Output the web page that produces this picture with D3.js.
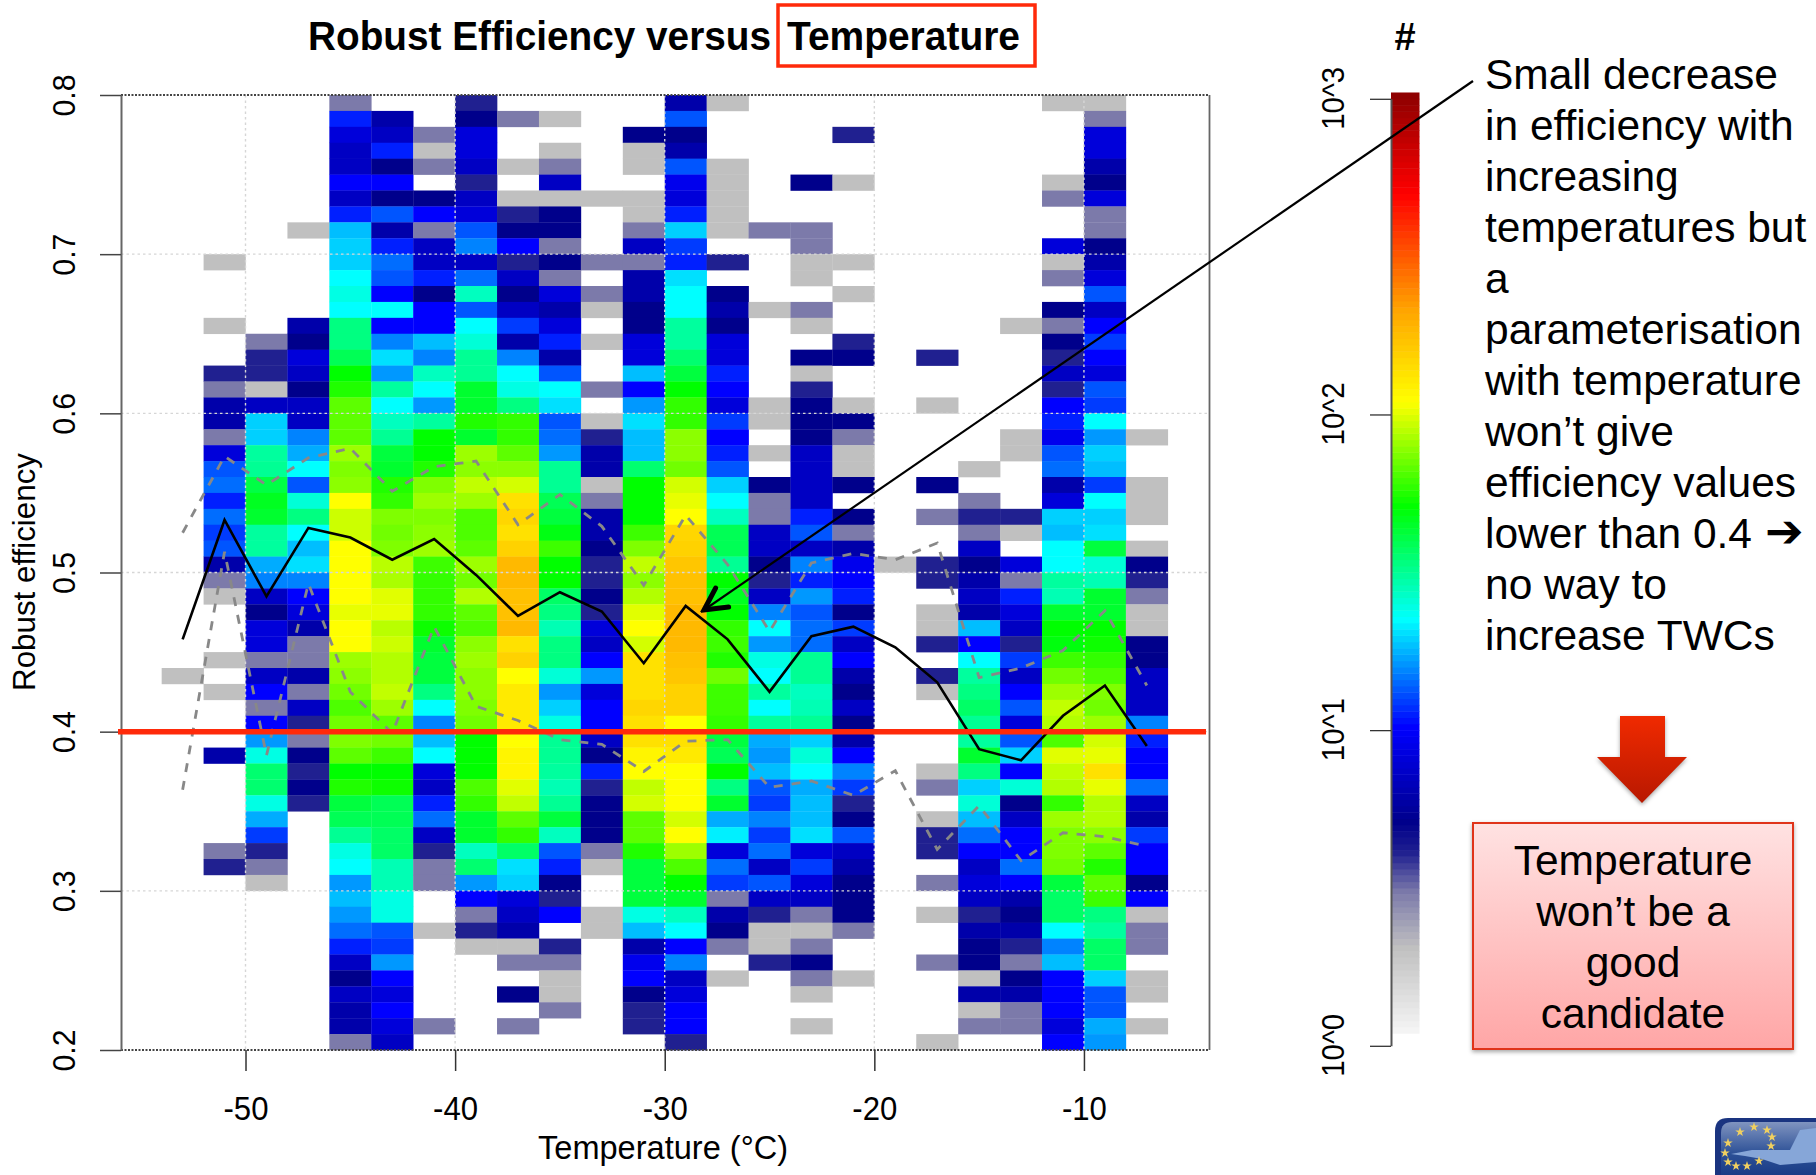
<!DOCTYPE html>
<html>
<head>
<meta charset="utf-8">
<title>Robust Efficiency versus Temperature</title>
<script src="https://cdn.jsdelivr.net/npm/d3@7/dist/d3.min.js"></script>
<style>
html, body { margin: 0; padding: 0; background: #fff; overflow: hidden; }
text { font-family: "Liberation Sans", Arial, sans-serif; fill: #000; }
</style>
</head>
<body>
<svg id="chart" width="1816" height="1175"></svg>
<script>
// lower edge of each 2 degree temperature bin
const tempBins = [-54,-52,-50,-48,-46,-44,-42,-40,-38,-36,-34,-32,-30,-28,-26,-24,-22,-20,-18,-16,-14,-12,-10,-8];

// counts per cell, one array per temperature bin, first entry is efficiency 0.79-0.80, last 0.20-0.21
const t54 = [0,0,0,0,0,0,0,0,0,0, 0,0,0,0,0,0,0,0,0,0, 0,0,0,0,0,0,0,0,0,0, 0,0,0,0,0,0,2,0,0,0, 0,0,0,0,0,0,0,0,0,0, 0,0,0,0,0,0,0,0,0,0];
const t52 = [0,0,0,0,0,0,0,0,0,0, 2,0,0,0,2,0,0,4,3,6, 6,3,8,13,14,11,14,12,13,6, 3,2,0,0,0,2,0,2,0,0, 0,6,0,0,0,0,0,3,4,0, 0,0,0,0,0,0,0,0,0,0];
const t50 = [0,0,0,0,0,0,0,0,0,0, 0,0,0,0,0,3,4,4,2,7, 19,19,30,31,40,45,43,30,30,17, 15,7,5,8,8,3,7,10,3,10, 16,24,35,35,24,17,12,4,3,2, 0,0,0,0,0,0,0,0,0,0];
const t48 = [0,0,0,0,0,0,0,0,2,0, 0,0,0,0,6,5,8,7,5,7, 7,15,17,22,13,25,33,22,18,20, 15,10,8,6,3,3,6,3,7,4, 3,5,4,5,4,0,0,0,0,0, 0,0,0,0,0,0,0,0,0,0];
const t46 = [3,11,8,7,7,10,7,11,18,19, 19,22,24,22,33,33,38,50,55,66, 66,66,80,73,76,107,92,92,107,107, 107,107,100,107,107,80,76,70,63,70, 73,66,50,55,41,38,31,24,22,16, 18,16,14,11,7,5,7,6,6,3];
const t44 = [0,6,7,11,5,10,5,13,6,11, 14,13,10,22,10,15,20,16,30,22, 27,31,41,43,55,58,73,70,73,87, 83,98,100,87,92,85,85,89,80,66, 70,60,50,52,38,38,36,36,28,28, 24,24,13,12,16,10,8,10,8,7];
const t42 = [0,0,3,2,3,0,5,10,3,7, 7,11,5,10,10,18,15,27,22,16, 30,50,50,55,73,80,73,76,80,60, 58,58,58,52,43,41,41,33,22,15, 18,22,8,7,11,14,7,4,3,3, 0,0,2,0,0,0,0,0,3,0];
const t40 = [4,5,8,8,7,4,7,8,13,15, 7,14,27,13,22,25,31,31,43,43, 55,43,80,76,89,80,63,63,66,80, 70,85,66,63,76,80,76,76,73,70, 50,50,50,63,58,43,43,27,35,16, 10,3,4,2,0,0,0,0,0,0];
const t38 = [0,3,0,0,2,0,2,4,5,10, 4,7,5,7,12,6,15,22,24,33, 58,58,66,76,94,134,145,134,150,180, 180,170,170,180,134,150,107,125,125,125, 107,115,115,98,89,66,58,36,20,19, 8,7,6,2,3,0,5,0,3,0];
const t36 = [0,2,0,2,3,7,2,5,5,3, 5,3,8,6,8,11,6,13,22,20, 13,14,16,31,31,38,41,47,60,50, 50,36,33,28,33,33,25,16,19,24, 31,31,30,28,31,41,27,13,11,5, 4,10,0,4,3,2,2,3,0,0];
const t34 = [0,0,0,0,0,0,2,0,0,0, 3,0,3,2,0,2,0,0,3,0, 2,4,6,6,2,3,6,6,5,4, 4,5,4,8,7,10,16,8,10,10, 7,5,11,4,5,5,5,3,2,0, 0,2,2,0,0,0,0,0,0,0];
const t32 = [0,0,5,2,2,0,2,2,3,7, 3,6,6,5,5,8,8,18,10,16, 20,18,18,35,50,50,50,60,73,89, 76,85,98,107,94,134,134,134,145,134, 134,115,107,89,94,66,66,55,41,41, 41,24,18,6,9,10,5,4,4,0];
const t30 = [6,13,5,6,13,9,8,11,19,12, 11,20,22,22,30,30,35,41,50,58, 58,76,76,70,94,100,107,145,150,163, 170,170,180,180,180,170,163,150,150,107, 134,125,107,107,107,94,107,80,63,50, 43,27,22,10,15,7,8,10,10,4];
const t28 = [2,0,0,0,2,2,2,2,2,0, 4,0,5,6,5,8,8,11,10,8, 12,10,11,13,19,22,27,38,38,31, 50,45,50,58,60,55,70,60,60,58, 41,38,50,33,43,17,21,8,14,12, 3,6,5,3,0,2,0,0,0,0];
const t26 = [0,0,0,0,0,0,0,0,3,0, 0,0,0,2,0,0,0,0,0,2, 2,0,2,0,5,3,3,7,7,5, 4,7,15,22,16,24,22,30,22,30, 17,16,18,13,12,15,12,14,7,13, 7,4,2,2,4,0,0,0,0,0];
const t24 = [0,0,0,0,0,5,0,0,3,3, 2,2,0,3,2,0,5,2,4,5, 5,5,7,7,7,7,11,13,7,15, 11,16,13,14,14,31,31,27,28,31, 19,25,22,17,18,18,20,8,12,8, 7,3,2,3,5,3,2,0,2,0];
const t22 = [0,0,4,0,0,2,0,0,0,0, 2,0,2,0,0,4,5,0,0,2, 5,3,2,2,5,0,5,3,6,9, 10,11,5,12,7,10,6,5,7,5, 6,10,15,12,4,5,13,7,6,5, 5,5,3,0,0,2,0,0,0,0];
const t20 = [0,0,0,0,0,0,0,0,0,0, 0,0,0,0,0,0,0,0,0,0, 0,0,0,0,0,0,0,0,0,2, 0,0,0,0,0,0,0,0,0,0, 0,0,0,0,0,0,0,0,0,0, 0,0,0,0,0,0,0,0,0,0];
const t18 = [0,0,0,0,0,0,0,0,0,0, 0,0,0,0,0,0,4,0,0,2, 0,0,0,0,5,0,3,0,0,4, 4,0,2,2,4,0,4,2,0,0, 0,0,2,3,0,2,4,4,0,3, 0,2,0,0,3,0,0,0,0,2];
const t16 = [0,0,0,0,0,0,0,0,0,0, 0,0,0,0,0,0,0,0,0,0, 0,0,0,2,0,3,4,3,7,5, 6,7,6,18,10,22,30,33,36,31, 30,43,33,19,25,18,14,10,7,8, 7,4,6,5,5,2,6,2,3,0];
const t14 = [0,0,0,0,0,0,0,0,0,0, 0,0,0,0,2,0,0,0,0,0, 0,2,2,0,0,0,4,2,0,8, 3,11,8,7,4,12,7,10,13,8, 13,19,10,25,5,7,10,10,14,10, 6,5,6,4,3,5,6,3,3,0];
const t12 = [2,0,0,0,0,2,3,0,0,8, 2,3,0,5,3,5,4,7,4,10, 11,9,13,14,6,8,19,18,22,22, 30,28,43,50,48,60,70,80,89,85, 63,98,89,85,58,80,73,73,70,41, 36,36,22,15,18,10,10,10,8,10];
const t10 = [2,3,8,8,6,5,8,3,3,5, 6,8,13,7,10,12,10,8,13,12, 22,16,19,18,12,22,19,20,41,25, 28,43,43,50,52,58,63,73,70,80, 94,100,134,100,85,85,76,66,55,66, 60,33,30,36,36,19,13,13,17,16];
const t8 = [0,0,0,0,0,0,0,0,0,0, 0,0,0,0,0,0,0,0,0,0, 0,2,0,0,2,2,2,0,2,5, 4,3,2,2,5,5,7,7,7,15, 11,10,10,14,7,6,12,10,10,5, 10,2,3,3,0,2,2,0,2,0];
const cellCounts = [t54,t52,t50,t48,t46,t44,t42,t40,t38,t36,t34,t32,t30,t28,t26,t24,t22,t20,t18,t16,t14,t12,t10,t8];

// bin centres for the three lines
const lineTemps = [-53,-51,-49,-47,-45,-43,-41,-39,-37,-35,-33,-31,-29,-27,-25,-23,-21,-19,-17,-15,-13,-11,-9,-7];
const medianEff = [0.458,0.533,0.485,0.528,0.522,0.508,0.521,0.4985,0.4727,0.4876,0.4755,0.443,0.479,0.458,0.425,0.46,0.466,0.453,0.431,0.389,0.382,0.41,0.429,0.391];
const upperEff = [0.525,0.573,0.555,0.572,0.578,0.551,0.5665,0.57,0.53,0.549,0.529,0.492,0.536,0.505,0.463,0.506,0.512,0.508,0.5185,0.434,0.44,0.451,0.476,0.429];
const lowerEff = [0.3635,0.513,0.385,0.493,0.425,0.399,0.466,0.416,0.407,0.395,0.392,0.375,0.394,0.395,0.365,0.369,0.36,0.3755,0.326,0.3535,0.319,0.3365,0.334,0.328];

const xTicks = [-50,-40,-30,-20,-10];
const yTicks = [0.2,0.3,0.4,0.5,0.6,0.7,0.8];
const legendTicks = [1,10,100,1000];
const legendLabels = ['10^0','10^1','10^2','10^3'];

// colour stops of the legend, in log10(count)
const colourLogs = [0.04,0.301,0.477,0.602,0.699,1,1.342,1.699,2.03,2.32,2.69,3.01];
const colourHexes = ['#f4f4f4','#c0c0c0','#7c7aaa','#202090','#00008b','#0000ff','#00ffff','#00ff00','#ffff00','#ffa500','#ff0000','#8b0000'];

const noteLines = ['Small decrease','in efficiency with','increasing','temperatures but','a','parameterisation','with temperature','won’t give','efficiency values','lower than 0.4','no way to','increase TWCs'];
const verdictLines = ['Temperature','won’t be a','good','candidate'];

const starSpots = [[1754,1127],[1740,1132],[1767,1130],[1772,1137],[1728,1143],[1771,1146],[1725,1153],[1728,1162],[1736,1166],[1747,1166],[1759,1161]];

const svg = d3.select('#chart');
const defs = svg.append('defs');

const x = d3.scaleLinear().domain([-55.94,-4.01]).range([121,1209.5]);
const y = d3.scaleLinear().domain([0.2,0.8]).range([1050,95]);
const colour = d3.scaleLinear().domain(colourLogs).range(colourHexes).clamp(true);
const legendY = d3.scaleLog().domain([1,1000]).range([1045.8,98.8]);

// heat cells
const cells = [];
tempBins.forEach(function(t,i){
  cellCounts[i].forEach(function(v,r){
    if(v>0) cells.push({t:t,top:0.8-r*0.01,v:v});
  });
});
svg.append('g').selectAll('rect')
  .data(cells)
  .enter().append('rect')
  .attr('x',function(d){ return x(d.t); })
  .attr('y',function(d){ return y(d.top); })
  .attr('width',x(2)-x(0)+0.3)
  .attr('height',y(0)-y(0.01)+0.3)
  .attr('fill',function(d){ return colour(Math.log10(d.v)); });

// dotted grid sits on top of the cells
const grid = svg.append('g').attr('fill','none').attr('stroke','#d6d6d6').attr('stroke-width',1.4).attr('stroke-dasharray','2.5 3');
grid.selectAll('.gx').data(xTicks).enter().append('line')
  .attr('x1',function(d){ return x(d); }).attr('x2',function(d){ return x(d); })
  .attr('y1',y(0.8)).attr('y2',y(0.2));
grid.selectAll('.gy').data(yTicks.slice(1,-1)).enter().append('line')
  .attr('x1',x.range()[0]).attr('x2',x.range()[1])
  .attr('y1',function(d){ return y(d); }).attr('y2',function(d){ return y(d); });

// frame: dotted top and bottom, solid sides
const frame = svg.append('g').attr('fill','none');
[0.8,0.2].forEach(function(v){
  frame.append('line').attr('x1',x.range()[0]).attr('x2',x.range()[1]).attr('y1',y(v)).attr('y2',y(v))
    .attr('stroke','#444').attr('stroke-width',2).attr('stroke-dasharray','2 1.5');
});
frame.append('line').attr('x1',x.range()[1]).attr('x2',x.range()[1]).attr('y1',y(0.8)).attr('y2',y(0.2))
  .attr('stroke','#666').attr('stroke-width',1.8);

// axes
const xAxis = svg.append('g').attr('transform','translate(0,'+y(0.2)+')')
  .call(d3.axisBottom(x).tickValues(xTicks).tickSize(21).tickFormat(d3.format('d')));
xAxis.select('.domain').remove();
xAxis.selectAll('line').attr('stroke','#333').attr('stroke-width',1.5);
xAxis.selectAll('text').attr('y',70).attr('dy',0)
  .attr('textLength',45).attr('lengthAdjust','spacingAndGlyphs')
  .style('font-size','33px').text(function(d){ return d; });

const yAxis = svg.append('g').attr('transform','translate('+x.range()[0]+',0)')
  .call(d3.axisLeft(y).tickValues(yTicks).tickSize(21).tickSizeOuter(0).tickFormat(d3.format('.1f')));
yAxis.select('.domain').attr('stroke','#666').attr('stroke-width',2);
yAxis.selectAll('line').attr('stroke','#444').attr('stroke-width',1.5);
yAxis.selectAll('text')
  .attr('x',0).attr('y',0).attr('dy',0)
  .attr('text-anchor','middle')
  .attr('textLength',42).attr('lengthAdjust','spacingAndGlyphs')
  .attr('transform','translate(-46,0) rotate(-90)')
  .style('font-size','32px');

svg.append('text').attr('transform','translate(35,572) rotate(-90)')
  .attr('text-anchor','middle').attr('textLength',238).attr('lengthAdjust','spacingAndGlyphs')
  .style('font-size','32px').text('Robust efficiency');
svg.append('text').attr('x',663).attr('y',1159)
  .attr('text-anchor','middle').attr('textLength',250).attr('lengthAdjust','spacingAndGlyphs')
  .style('font-size','33px').text('Temperature (°C)');

// title with the red box round the last word
svg.append('text').attr('x',308).attr('y',50)
  .attr('textLength',463).attr('lengthAdjust','spacingAndGlyphs')
  .style('font-size','40px').style('font-weight','bold').text('Robust Efficiency versus');
svg.append('text').attr('x',787).attr('y',50)
  .attr('textLength',233).attr('lengthAdjust','spacingAndGlyphs')
  .style('font-size','40px').style('font-weight','bold').text('Temperature');
svg.append('rect').attr('x',778).attr('y',5).attr('width',257).attr('height',61)
  .attr('fill','none').attr('stroke','#ff2a0a').attr('stroke-width',3.5);

// median and quartile lines
const line = d3.line()
  .x(function(d){ return x(d[0]); })
  .y(function(d){ return y(d[1]); });
[lowerEff,upperEff].forEach(function(vals){
  svg.append('path').datum(d3.zip(lineTemps,vals)).attr('d',line)
    .attr('fill','none').attr('stroke','#888').attr('stroke-width',2.8).attr('stroke-dasharray','9 9');
});
svg.append('path').datum(d3.zip(lineTemps,medianEff)).attr('d',line)
  .attr('fill','none').attr('stroke','#000').attr('stroke-width',2.6);

// threshold line at 0.4
svg.append('line').attr('x1',118).attr('x2',1206).attr('y1',y(0.4)).attr('y2',y(0.4))
  .attr('stroke','#ff2a0a').attr('stroke-width',5.5);

// colour legend
const legendSteps = d3.range(0.04,3.01,0.02);
const legend = svg.append('g');
legend.selectAll('rect').data(legendSteps).enter().append('rect')
  .attr('x',1391).attr('width',28.5)
  .attr('y',function(d){ return legendY(Math.pow(10,d+0.02)); })
  .attr('height',function(d){ return legendY(Math.pow(10,d))-legendY(Math.pow(10,d+0.02))+0.5; })
  .attr('fill',function(d){ return colour(d); });
const legendAxis = svg.append('g').attr('transform','translate(1391,0)')
  .call(d3.axisLeft(legendY).tickValues(legendTicks).tickSize(21).tickSizeOuter(0)
    .tickFormat(function(d,i){ return legendLabels[i]; }));
legendAxis.select('.domain').attr('stroke','#555').attr('stroke-width',2);
legendAxis.selectAll('line').attr('stroke','#333').attr('stroke-width',1.3);
legendAxis.selectAll('text')
  .attr('x',0).attr('y',0).attr('dy',0)
  .attr('text-anchor','middle')
  .attr('textLength',63).attr('lengthAdjust','spacingAndGlyphs')
  .attr('transform','translate(-47,-1) rotate(-90)')
  .style('font-size','32px');
svg.append('text').attr('x',1405).attr('y',50).attr('text-anchor','middle')
  .style('font-size','38px').style('font-weight','bold').text('#');

// pointer from the note to the curve
defs.append('marker').attr('id','openHead').attr('markerUnits','userSpaceOnUse')
  .attr('viewBox','-26 -15 30 30').attr('markerWidth',30).attr('markerHeight',30)
  .attr('refX',0).attr('refY',0).attr('orient','auto')
  .append('path').attr('d','M-22,-11.5L0,0L-22,11.5')
  .attr('fill','none').attr('stroke','#000').attr('stroke-width',5).attr('stroke-linecap','round');
svg.append('line').attr('x1',1473).attr('y1',81).attr('x2',704).attr('y2',610)
  .attr('stroke','#000').attr('stroke-width',2.2).attr('marker-end','url(#openHead)');

// note text
const note = svg.append('g').style('font-size','42.5px');
note.selectAll('text').data(noteLines).enter().append('text')
  .attr('x',1485)
  .attr('y',function(d,i){ return 88.5+i*51.05; })
  .text(function(d){ return d; });
svg.append('text').attr('x',1765).attr('y',547)
  .style('font-family','"DejaVu Sans"').style('font-size','46px').text('➔');

// big red arrow
const arrowGrad = defs.append('linearGradient').attr('id','arrowFill').attr('x1',0).attr('y1',0).attr('x2',0).attr('y2',1);
arrowGrad.append('stop').attr('offset','0').attr('stop-color','#f02a00');
arrowGrad.append('stop').attr('offset','1').attr('stop-color','#b81800');
svg.append('path').attr('d','M1620,716H1665V757H1687L1642,803L1597,757H1620Z')
  .attr('fill','url(#arrowFill)').style('filter','drop-shadow(0 2px 2px rgba(0,0,0,0.35))');

// verdict box
const boxGrad = defs.append('linearGradient').attr('id','boxFill').attr('x1',0).attr('y1',0).attr('x2',0).attr('y2',1);
boxGrad.append('stop').attr('offset','0').attr('stop-color','#ffe2e2');
boxGrad.append('stop').attr('offset','1').attr('stop-color','#ffa6a6');
svg.append('rect').attr('x',1473).attr('y',823).attr('width',320).attr('height',226)
  .attr('fill','url(#boxFill)').attr('stroke','#e0341a').attr('stroke-width',2)
  .style('filter','drop-shadow(0 2px 2px rgba(0,0,0,0.35))');
const verdict = svg.append('g').style('font-size','42.5px').attr('text-anchor','middle');
verdict.selectAll('text').data(verdictLines).enter().append('text')
  .attr('x',1633)
  .attr('y',function(d,i){ return 875+i*51; })
  .text(function(d){ return d; });

// logo in the corner
const logoGrad = defs.append('linearGradient').attr('id','logoFill').attr('x1',0).attr('y1',0).attr('x2',0).attr('y2',1);
logoGrad.append('stop').attr('offset','0').attr('stop-color','#8094c0');
logoGrad.append('stop').attr('offset','0.6').attr('stop-color','#2c5096');
logoGrad.append('stop').attr('offset','1').attr('stop-color','#1a3c86');
svg.append('path').attr('d','M1816,1118H1728Q1715,1118 1715,1131V1175H1816Z').attr('fill','#1a3480');
svg.append('path').attr('d','M1816,1122H1732Q1721,1122 1721,1133V1175H1816Z').attr('fill','url(#logoFill)');
svg.append('path').attr('d','M1731,1154L1752,1150L1790,1150L1800,1130L1816,1128V1162L1780,1165L1762,1159L1745,1156Z').attr('fill','#86a6d8');
svg.selectAll('.star').data(starSpots).enter().append('path')
  .attr('transform',function(d){ return 'translate('+d[0]+','+d[1]+')'; })
  .attr('d',d3.symbol().type(d3.symbolStar).size(28))
  .attr('fill','#f0d060');
</script>
</body>
</html>
